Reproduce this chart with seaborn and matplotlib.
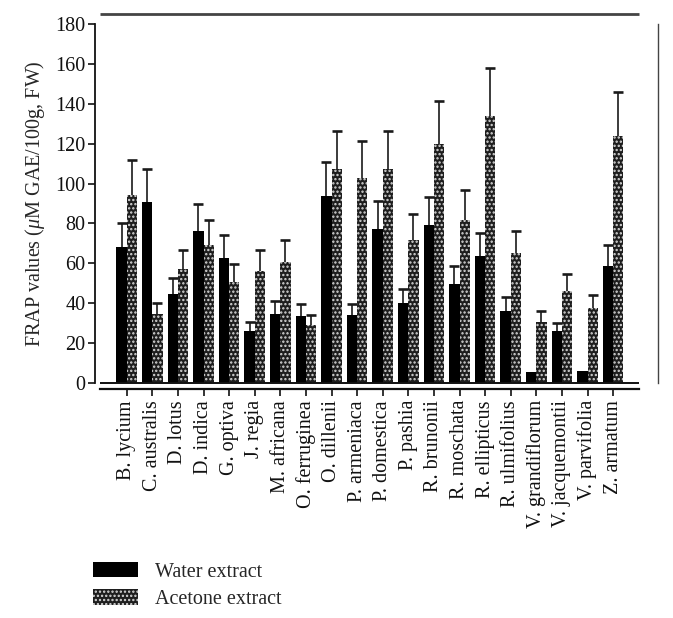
import numpy as np
import pandas as pd
import matplotlib
matplotlib.use("Agg")
import matplotlib.pyplot as plt
from matplotlib.patches import Patch
import seaborn as sns

species = ["B. lycium", "C. australis", "D. lotus", "D. indica", "G. optiva",
           "J. regia", "M. africana", "O. ferruginea", "O. dillenii", "P. armeniaca",
           "P. domestica", "P. pashia", "R. brunonii", "R. moschata", "R. ellipticus",
           "R. ulmifolius", "V. grandiflorum", "V. jacquemontii", "V. parvifolia", "Z. armatum"]
water = [68.3, 90.8, 44.7, 76.3, 62.6, 26.1, 34.6, 33.8, 93.8, 34.0,
         77.1, 40.0, 79.1, 49.5, 63.7, 36.1, 5.4, 26.1, 6.0, 58.7]
water_err = [12.0, 16.4, 7.8, 13.2, 11.5, 4.3, 6.4, 5.8, 16.9, 5.5,
             14.2, 7.0, 14.2, 9.2, 11.7, 6.9, 0.0, 4.0, 0.0, 10.6]
acetone = [94.5, 34.5, 57.0, 69.1, 50.5, 56.4, 60.6, 28.9, 107.2, 102.7,
           107.4, 71.9, 119.9, 81.8, 134.0, 65.2, 30.6, 46.3, 37.6, 123.6]
acetone_err = [17.1, 5.5, 9.9, 12.5, 9.1, 10.2, 11.0, 5.2, 19.1, 18.4,
               19.2, 12.7, 21.5, 15.1, 24.1, 11.2, 5.4, 8.4, 6.7, 22.4]
yticks = [0, 20, 40, 60, 80, 100, 120, 140, 160, 180]
series = ["Water extract", "Acetone extract"]

df = pd.DataFrame({
    "species": species * 2,
    "extract": [series[0]] * len(species) + [series[1]] * len(species),
    "value": water + acetone,
})

sns.set_style("white")
plt.rcParams["font.family"] = ["Liberation Serif", "DejaVu Serif"]
plt.rcParams["mathtext.fontset"] = "custom"
plt.rcParams["mathtext.rm"] = "Liberation Serif"
plt.rcParams["mathtext.it"] = "Liberation Serif:italic"
plt.rcParams["hatch.linewidth"] = 1.1

W, H = 673, 618
fig = plt.figure(figsize=(W / 100, H / 100), dpi=100)
ax = fig.add_axes([95 / W, (H - 383) / H, (658 - 95) / W, (383 - 24) / H])

acetone_face = "#1e1e1e"
hatch_col = "#d8d8d8"
sns.barplot(data=df, x="species", y="value", hue="extract", order=species,
            hue_order=series, palette={series[0]: "black", series[1]: acetone_face},
            errorbar=None, width=0.8, saturation=1, linewidth=0, ax=ax, legend=False)

for bar in ax.containers[1]:
    bar.set_hatch("....")
    bar.set_edgecolor(hatch_col)
    bar.set_linewidth(0)

# error bars (upper only, cap at top only)
for cont, vals, errs in [(ax.containers[0], water, water_err),
                         (ax.containers[1], acetone, acetone_err)]:
    xs = np.array([b.get_x() + b.get_width() / 2 for b in cont])
    v = np.array(vals)
    e = np.array(errs)
    m = e > 0
    ax.errorbar(xs[m], v[m], yerr=[np.zeros(m.sum()), e[m]], fmt="none",
                ecolor="#1a1a1a", elinewidth=1.2, capsize=0, zorder=3)
    ax.plot(xs[m], (v + e)[m], linestyle="none", marker="_", markersize=7.5,
            markeredgewidth=1.9, color="#1a1a1a", zorder=3)

x0, dx = 126.7, 25.6
ax.set_xlim((95 - x0) / dx, (658 - x0) / dx)
ax.set_ylim(0, 180)
ax.set_yticks(yticks)
ax.set_xticks(range(len(species)))
ax.set_xticklabels(species)
ax.tick_params(axis="y", direction="out", length=5, width=1.2, labelsize=14.5, pad=2,
               left=True, colors="#111111")
ax.tick_params(axis="x", direction="out", length=5, width=1.2, labelsize=14.5, pad=3,
               bottom=True, labelrotation=90, colors="#111111")
ax.set_xlabel("")
ax.set_ylabel(r"FRAP values ($\mu$M GAE/100g, FW)", fontsize=14.5, labelpad=6)

xl = (100 - x0) / dx
xr = (639 - x0) / dx
ax.spines["top"].set_visible(False)
ax.spines["left"].set_linewidth(1.3)
ax.spines["right"].set_linewidth(1.0)
ax.spines["right"].set_color("#444444")
ax.spines["left"].set_color("#111111")
ax.spines["bottom"].set_position(("outward", 4.3))
ax.spines["bottom"].set_bounds(xl, xr)
ax.spines["bottom"].set_linewidth(1.6)
ax.spines["bottom"].set_color("#111111")
ax.hlines(0, xl, xr, colors="#111111", linewidth=1.4, clip_on=False, zorder=4)
ax.hlines(180 + 10 / 1.995, xl, xr, colors="#444444", linewidth=2.0, clip_on=False)

handles = [Patch(facecolor="black", edgecolor="black", linewidth=0),
           Patch(facecolor=acetone_face, edgecolor=hatch_col, hatch="....", linewidth=0)]
fig.legend(handles, series, loc="upper left", bbox_to_anchor=(93 / W, 1 - 562 / H),
           frameon=False, fontsize=14.5, handlelength=2.25, handleheight=0.8,
           handletextpad=0.85, labelspacing=0.38, borderaxespad=0, borderpad=0)

fig.savefig("out.png", dpi=100)
